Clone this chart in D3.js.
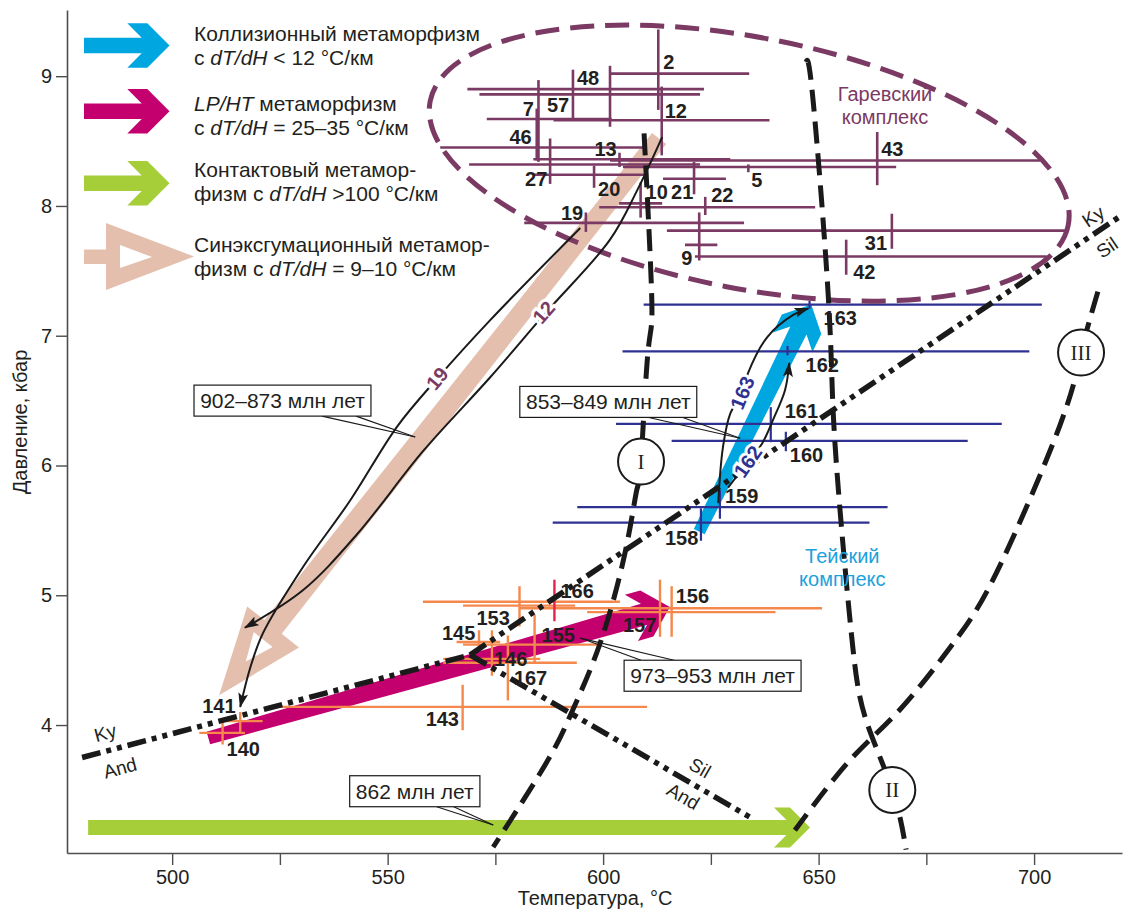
<!DOCTYPE html>
<html>
<head>
<meta charset="utf-8">
<script src="https://cdn.jsdelivr.net/npm/d3@7"></script>
<style>
  body { margin: 0; background: #fff; }
  svg text { font-family: "Liberation Sans", Arial, sans-serif; fill: #231f20; }
</style>
</head>
<body>
<script>
// temperature, °C / pressure, kbar
const xTicks = [500, 525, 550, 575, 600, 625, 650, 675, 700];
const xLabels = [500, 550, 600, 650, 700];
const yTicks = [4, 5, 6, 7, 8, 9];

// [id, T, Tmin, Tmax, P, Pmin, Pmax]
const garevsky = [
  ["2", 612.8, 601.6, 633.9, 9.02, 8.74, 9.36],
  ["48", 601.6, 568.5, 623.4, 8.90, 8.61, 9.08],
  ["57", 593.0, 571.3, 622.5, 8.86, 8.67, 9.05],
  ["7", 584.6, 573.0, 602.0, 8.67, 8.35, 8.75],
  ["46", 585.0, 562.2, 610.1, 8.45, 8.34, 8.97],
  ["12", 613.6, 588.5, 638.6, 8.66, 8.39, 8.92],
  ["27", 587.7, 568.9, 622.5, 8.32, 8.17, 8.52],
  ["13", 603.8, 583.8, 629.5, 8.36, 8.30, 8.41],
  ["43", 663.6, 601.6, 701.4, 8.35, 8.16, 8.57],
  ["5", 633.7, 604.6, 668.0, 8.30, 8.26, 8.32],
  ["20", 597.9, 583.8, 610.2, 8.24, 8.14, 8.31],
  ["21", 621.1, 613.9, 628.5, 8.21, 8.09, 8.34],
  ["10", 608.7, 603.7, 613.7, 8.02, 7.91, 8.18],
  ["22", 623.7, 599.1, 649.2, 7.99, 7.93, 8.07],
  ["19", 596.0, 581.7, 632.7, 7.87, 7.80, 7.95],
  ["31", 667.0, 614.8, 707.9, 7.81, 7.67, 7.94],
  ["9", 622.3, 619.0, 626.5, 7.70, 7.58, 7.95],
  ["42", 656.4, 621.3, 702.9, 7.61, 7.47, 7.74]
];
const tey = [
  ["163", 647.9, 609.4, 701.8, 7.24, 7.21, 7.27],
  ["162", 642.8, 604.5, 698.9, 6.88, 6.85, 6.92],
  ["161", 638.9, 603.0, 692.5, 6.32, 6.18, 6.45],
  ["160", 642.4, 615.9, 684.6, 6.19, 6.11, 6.26],
  ["159", 627.1, 594.0, 666.0, 5.68, 5.59, 5.81],
  ["158", 622.7, 588.3, 661.8, 5.56, 5.42, 5.67]
];
const lpht = [
  ["166", 588.7, 558.2, 603.9, 4.95, 4.80, 5.12],
  ["153", 580.6, 567.5, 593.5, 4.92, 4.76, 5.07],
  ["156", 615.9, 580.7, 650.8, 4.90, 4.68, 5.07],
  ["157", 613.2, 596.3, 640.0, 4.87, 4.68, 5.12],
  ["155", 584.1, 567.5, 598.6, 4.62, 4.48, 4.85],
  ["145", 571.2, 566.0, 576.1, 4.64, 4.57, 4.73],
  ["146", 574.2, 562.9, 585.4, 4.51, 4.38, 4.73],
  ["167", 577.9, 562.9, 593.9, 4.48, 4.19, 4.69],
  ["143", 567.4, 525.1, 610.2, 4.14, 3.96, 4.31],
  ["141", 515.8, 511.1, 521.0, 4.03, 3.94, 4.10],
  ["140", 511.7, 506.3, 516.9, 3.94, 3.85, 4.03]
];

// label placement, px from the cross centre
const labelOffset = {
  "2": [5, -5], "48": [-33, -4], "57": [-26, 18], "7": [-14, -3], "46": [-29, -4],
  "12": [3, -2], "27": [-25, 22], "13": [-25, -3], "43": [4, -5], "5": [3, 20],
  "20": [4, 21], "21": [-23, 20], "10": [5, -4], "22": [6, -5], "19": [-25, -3],
  "31": [-27, 19], "9": [-18, 20], "42": [7, 22],
  "163": [14, 20], "162": [18, 21], "161": [14, -6], "160": [4, 21], "159": [5, -4], "158": [-36, 22],
  "166": [6, -4], "153": [-43, 19], "156": [4, -5], "157": [-37, 20], "155": [7, -3],
  "145": [-37, -2], "146": [2, 7], "167": [6, 22], "143": [-37, 19], "141": [-38, -8], "140": [4, 23]
};

// reaction curves [T, P]
const reactionI = [[609.5, 8.56], [611.3, 7.27], [610.4, 6.87], [608.8, 6.03], [607.8, 5.81],
  [605.1, 5.33], [599.3, 4.63], [593.0, 4.12], [587.2, 3.73], [574.5, 3.06]];
const reactionII = [[647.1, 9.11], [648.7, 8.82], [652.2, 7.33], [653.4, 6.40], [655.5, 5.45],
  [658.0, 4.58], [661.0, 4.04], [667.1, 3.50], [670.3, 3.04]];
const reactionIII = [[714.8, 7.34], [710.9, 6.87], [706.0, 6.31], [692.1, 5.23], [681.7, 4.65],
  [668.9, 4.12], [657.3, 3.73], [644.5, 3.19]];
const reactionMarks = [["I", 608.8, 6.03], ["II", 667.1, 3.50], ["III", 710.9, 6.87]];

// Al2SiO5 boundaries
const kyAnd = [[479.1, 3.75], [569.1, 4.54]];
const kySil = [[569.1, 4.54], [720.4, 7.93]];
const silAnd = [[569.1, 4.54], [634.6, 3.28]];
const phaseLabels = [
  ["Ky", 484.5, 3.94, -15], ["And", 487.9, 3.67, -15],
  ["Ky", 713.7, 7.92, -34], ["Sil", 716.9, 7.68, -34],
  ["Sil", 622.5, 3.67, 30], ["And", 618.6, 3.45, 30]
];

// big path arrows: [start, end]
const arrowCollision = [[622.3, 5.49], [648.3, 7.24]];
const arrowLpht = [[508.4, 3.90], [615.5, 4.91]];
const arrowContact = [[480.5, 3.21], [648.0, 3.21]];
const arrowSynexh = [[613.0, 8.52], [510.9, 4.23]];

// thin P-T path curves
const path19 = [[594.7, 7.83], [573.8, 7.12], [561.5, 6.67], [552.2, 6.30], [541.3, 5.73],
  [530.4, 5.22], [521.1, 4.71], [518.1, 4.44], [515.8, 4.14]];
const path12 = [[613.7, 8.53], [607.9, 8.12], [601.6, 7.74], [586.5, 7.17], [573.8, 6.68],
  [558.2, 6.11], [542.9, 5.47], [530.4, 5.04], [516.9, 4.75]];
const path163 = [[626.7, 5.71], [627.8, 6.14], [629.5, 6.40], [632.3, 6.56], [633.6, 6.71],
  [638.1, 6.99], [644.1, 7.16], [647.6, 7.21]];
const path162 = [[629.0, 5.83], [633.6, 6.03], [636.9, 6.17], [639.4, 6.35], [642.2, 6.58], [643.2, 6.79]];
// [text, T, P, angle, colour]
const pathLabels = [["19", 561.5, 6.67, -50, "#7b3a63"], ["12", 586.2, 7.18, -49, "#7b3a63"],
  ["163", 632.3, 6.56, -68, "#2e3192"], ["162", 633.6, 6.03, -55, "#2e3192"]];

// age callouts: [text, T box centre, P box centre, T target, P target]
const callouts = [
  ["902–873 млн лет", 525.6, 6.50, 556.4, 6.22],
  ["853–849 млн лет", 601.2, 6.49, 631.8, 6.21],
  ["973–953 млн лет", 625.4, 4.38, 594.7, 4.67],
  ["862 млн лет", 556.3, 3.49, 574.5, 3.23]
];
// where the two pointer lines leave the box, px from its left edge
const calloutFeet = [[128, 162], [129, 163], [17, 50], [87, 104]];

const W = 1124, H = 911;
const svg = d3.select("body").append("svg").attr("width", W).attr("height", H);

const x = d3.scaleLinear().domain([475.6, 720.4]).range([67, 1122]);
const y = d3.scaleLinear().domain([3.014, 9.51]).range([853, 10]);

const purple = "#7b3a63", navy = "#2e3192", orange = "#f5884c";

// axes
const gx = svg.append("g").attr("transform", "translate(0,853)")
  .call(d3.axisBottom(x).tickValues(xTicks).tickSize(12).tickSizeOuter(0).tickPadding(5)
    .tickFormat(d => xLabels.includes(d) ? d : ""));
const gy = svg.append("g").attr("transform", "translate(67,0)")
  .call(d3.axisLeft(y).tickValues(yTicks).tickSize(11).tickSizeOuter(0).tickPadding(4)
    .tickFormat(d3.format("d")));
[gx, gy].forEach(g => {
  g.select(".domain").attr("stroke", "#4d4d4d").attr("stroke-width", 1.6);
  g.selectAll(".tick line").attr("stroke", "#4d4d4d").attr("stroke-width", 1.4);
  g.selectAll(".tick text").attr("font-size", 20).attr("fill", "#231f20")
    .style("font-family", "Liberation Sans, Arial, sans-serif");
});
svg.append("text").attr("x", 595).attr("y", 905).attr("text-anchor", "middle")
  .attr("font-size", 20).text("Температура, °C");
svg.append("text").attr("transform", "translate(27,422) rotate(-90)").attr("text-anchor", "middle")
  .attr("font-size", 20).text("Давление, кбар");

// arrow shapes
function chevron(p0, p1, sh0, sh1, hh, t) {
  const dx = p1[0] - p0[0], dy = p1[1] - p0[1], L = Math.hypot(dx, dy);
  const u = [dx / L, dy / L], n = [-u[1], u[0]];
  const pt = (a, b) => [p0[0] + u[0] * a + n[0] * b, p0[1] + u[1] * a + n[1] * b];
  const nA = L - t - sh1;
  return [pt(0, -sh0), pt(nA, -sh1), pt(L - hh - t, -hh), pt(L - hh, -hh), pt(L, 0),
    pt(L - hh, hh), pt(L - hh - t, hh), pt(nA, sh1), pt(0, sh0)];
}
function hollowArrow(p0, p1, sh0, sh1, hl, hh, inner) {
  const dx = p1[0] - p0[0], dy = p1[1] - p0[1], L = Math.hypot(dx, dy);
  const u = [dx / L, dy / L], n = [-u[1], u[0]];
  const pt = (a, b) => [p0[0] + u[0] * a + n[0] * b, p0[1] + u[1] * a + n[1] * b];
  return {
    outer: [pt(0, -sh0), pt(L - hl, -sh1), pt(L - hl, -hh), pt(L, 0), pt(L - hl, hh), pt(L - hl, sh1), pt(0, sh0)],
    inner: [pt(L - inner[0], -inner[1]), pt(L - inner[2], 0), pt(L - inner[0], inner[1])]
  };
}
const px = d => [x(d[0]), y(d[1])];
const poly = pts => "M" + pts.map(p => p.join(",")).join("L") + "Z";

const gArrows = svg.append("g");
const syn = hollowArrow(px(arrowSynexh[0]), px(arrowSynexh[1]), 9, 11, 87, 33, [71, 12, 43]);
gArrows.append("path").attr("d", poly(syn.outer)).attr("fill", "#e5bfae");
gArrows.append("path").attr("d", poly(syn.inner)).attr("fill", "#fff");
gArrows.append("path").attr("d", poly(chevron(px(arrowLpht[0]), px(arrowLpht[1]), 6.5, 11, 24, 16)))
  .attr("fill", "#c4006f");
gArrows.append("path").attr("d", poly(chevron(px(arrowCollision[0]), px(arrowCollision[1]), 6, 9, 22, 20)))
  .attr("fill", "#00a6e0");
gArrows.append("path").attr("d", poly(chevron(px(arrowContact[0]), px(arrowContact[1]), 7.5, 7.5, 20, 16)))
  .attr("fill", "#a6ce39");

// crosses
function crosses(data, color, sw) {
  const g = svg.append("g");
  g.selectAll("line.h").data(data).join("line").attr("class", "h")
    .attr("x1", d => x(d[2])).attr("x2", d => x(d[3]))
    .attr("y1", d => y(d[4])).attr("y2", d => y(d[4]))
    .attr("stroke", color).attr("stroke-width", sw);
  g.selectAll("line.v").data(data).join("line").attr("class", "v")
    .attr("x1", d => x(d[1])).attr("x2", d => x(d[1]))
    .attr("y1", d => y(d[5])).attr("y2", d => y(d[6]))
    .attr("stroke", d => d[0] === "166" ? "#e4244f" : color).attr("stroke-width", sw);
}
crosses(garevsky, purple, 2.6);
crosses(tey, navy, 2.2);
crosses(lpht, orange, 2.4);

// Garevsky field
const ell = px([633.9, 8.33]);
svg.append("ellipse").attr("cx", 0).attr("cy", 0).attr("rx", 325).attr("ry", 125.6)
  .attr("transform", `translate(${ell[0]},${ell[1]}) rotate(11)`)
  .attr("fill", "none").attr("stroke", purple).attr("stroke-width", 5)
  .attr("stroke-dasharray", "24,11");

// boundaries
const line = d3.line().x(d => x(d[0])).y(d => y(d[1]));
const natural = d3.line().x(d => x(d[0])).y(d => y(d[1])).curve(d3.curveNatural);
const smooth = d3.line().x(d => x(d[0])).y(d => y(d[1])).curve(d3.curveCatmullRom.alpha(0.5));
[kyAnd, kySil, silAnd].forEach(d => {
  svg.append("path").attr("d", line(d)).attr("fill", "none").attr("stroke", "#1a1a1a")
    .attr("stroke-width", 5.5).attr("stroke-dasharray", "19,6,5,6,5,6");
});
[reactionI, reactionII, reactionIII].forEach(d => {
  svg.append("path").attr("d", natural(d)).attr("fill", "none").attr("stroke", "#1a1a1a")
    .attr("stroke-width", 5).attr("stroke-dasharray", "22,10");
});
svg.selectAll("text.ph").data(phaseLabels).join("text").attr("class", "ph")
  .attr("transform", d => `translate(${x(d[1])},${y(d[2])}) rotate(${d[3]})`)
  .attr("text-anchor", "middle").attr("dy", "0.35em").attr("font-size", 19).text(d => d[0]);

const gMarks = svg.selectAll("g.rm").data(reactionMarks).join("g").attr("class", "rm")
  .attr("transform", d => `translate(${x(d[1])},${y(d[2])})`);
gMarks.append("circle").attr("r", 23).attr("fill", "#fff").attr("stroke", "#1a1a1a").attr("stroke-width", 2);
gMarks.append("text").attr("text-anchor", "middle").attr("dy", "0.35em").attr("font-size", 21)
  .style("font-family", "Liberation Serif, DejaVu Serif, serif").text(d => d[0]);

// thin path curves with arrowheads
svg.append("defs").append("marker").attr("id", "ah").attr("viewBox", "0 0 12 8")
  .attr("refX", 11).attr("refY", 4).attr("markerWidth", 15).attr("markerHeight", 10)
  .attr("markerUnits", "userSpaceOnUse").attr("orient", "auto")
  .append("path").attr("d", "M0,0L12,4L0,8L2.5,4Z").attr("fill", "#1a1a1a");
[path19, path12, path163, path162].forEach(d => {
  svg.append("path").attr("d", smooth(d)).attr("fill", "none").attr("stroke", "#1a1a1a")
    .attr("stroke-width", 2).attr("marker-end", "url(#ah)");
});
svg.selectAll("text.pl").data(pathLabels).join("text").attr("class", "pl")
  .attr("transform", d => `translate(${x(d[1])},${y(d[2])}) rotate(${d[3]})`)
  .attr("text-anchor", "middle").attr("dy", "0.35em").attr("font-size", 20).attr("font-weight", "bold")
  .style("fill", d => d[4]).attr("stroke", "#fff").attr("stroke-width", 6)
  .attr("paint-order", "stroke").text(d => d[0]);

// callouts
callouts.forEach((c, i) => {
  const g = svg.append("g");
  const t = g.append("text").attr("font-size", 21).attr("text-anchor", "middle")
    .attr("x", x(c[1])).attr("y", y(c[2])).attr("dy", "0.35em").text(c[0]);
  const bb = t.node().getBBox();
  const bw = bb.width + 12, bh = 31;
  const bx = x(c[1]) - bw / 2, by = y(c[2]) - bh / 2;
  const tx = x(c[3]), ty = y(c[4]);
  const edge = ty > by + bh ? by + bh : by;
  calloutFeet[i].forEach(f => {
    g.insert("line", "text").attr("x1", bx + f).attr("y1", edge).attr("x2", tx).attr("y2", ty)
      .attr("stroke", "#1a1a1a").attr("stroke-width", 1.1);
  });
  g.insert("rect", "text").attr("x", bx).attr("y", by).attr("width", bw).attr("height", bh)
    .attr("fill", "#fff").attr("stroke", "#1a1a1a").attr("stroke-width", 1.2);
});

// sample numbers
svg.selectAll("text.num").data([...garevsky, ...tey, ...lpht]).join("text").attr("class", "num")
  .attr("x", d => x(d[1]) + labelOffset[d[0]][0]).attr("y", d => y(d[4]) + labelOffset[d[0]][1])
  .attr("font-size", 20).attr("font-weight", "bold").text(d => d[0]);

// complex names
[["Гаревский", "комплекс", 665.4, 8.81, purple], ["Тейский", "комплекс", 655.5, 5.25, "#1ba1dc"]]
  .forEach(d => {
    const t = svg.append("text").attr("x", x(d[2])).attr("y", y(d[3])).attr("text-anchor", "middle")
      .attr("font-size", 20).style("fill", d[4]);
    t.append("tspan").attr("x", x(d[2])).text(d[0]);
    t.append("tspan").attr("x", x(d[2])).attr("dy", 23).text(d[1]);
  });

// legend
const legend = svg.append("g");
legend.append("path").attr("d", poly(chevron([84, 45.5], [169.5, 45.5], 7.8, 7.8, 22.2, 20))).attr("fill", "#00a6e0");
legend.append("path").attr("d", poly(chevron([84, 111.3], [169.5, 111.3], 7.8, 7.8, 22.2, 20))).attr("fill", "#c4006f");
legend.append("path").attr("d", poly(chevron([84, 183.3], [169.5, 183.3], 7.8, 7.8, 22.2, 20))).attr("fill", "#a6ce39");
legend.append("path").attr("d", "M84,249.5L106,249.5L106,223L194,256.5L106,290L106,264L84,264Z").attr("fill", "#e5bfae");
legend.append("path").attr("d", "M120,245L152,257L120,268Z").attr("fill", "#fff");

const legendLines = [
  [41, [["Коллизионный метаморфизм", false]]],
  [65, [["с ", false], ["dT/dH", true], [" < 12 °C/км", false]]],
  [111, [["LP/HT", true], [" метаморфизм", false]]],
  [135, [["с ", false], ["dT/dH", true], [" = 25–35 °C/км", false]]],
  [177, [["Контактовый метамор-", false]]],
  [201, [["физм с ", false], ["dT/dH", true], [" >100 °C/км", false]]],
  [252, [["Синэксгумационный метамор-", false]]],
  [276, [["физм с ", false], ["dT/dH", true], [" = 9–10 °C/км", false]]]
];
legendLines.forEach(l => {
  const t = legend.append("text").attr("x", 194).attr("y", l[0]).attr("font-size", 21)
    .attr("xml:space", "preserve");
  l[1].forEach(s => t.append("tspan").attr("font-style", s[1] ? "italic" : "normal").text(s[0]));
});
</script>
</body>
</html>
